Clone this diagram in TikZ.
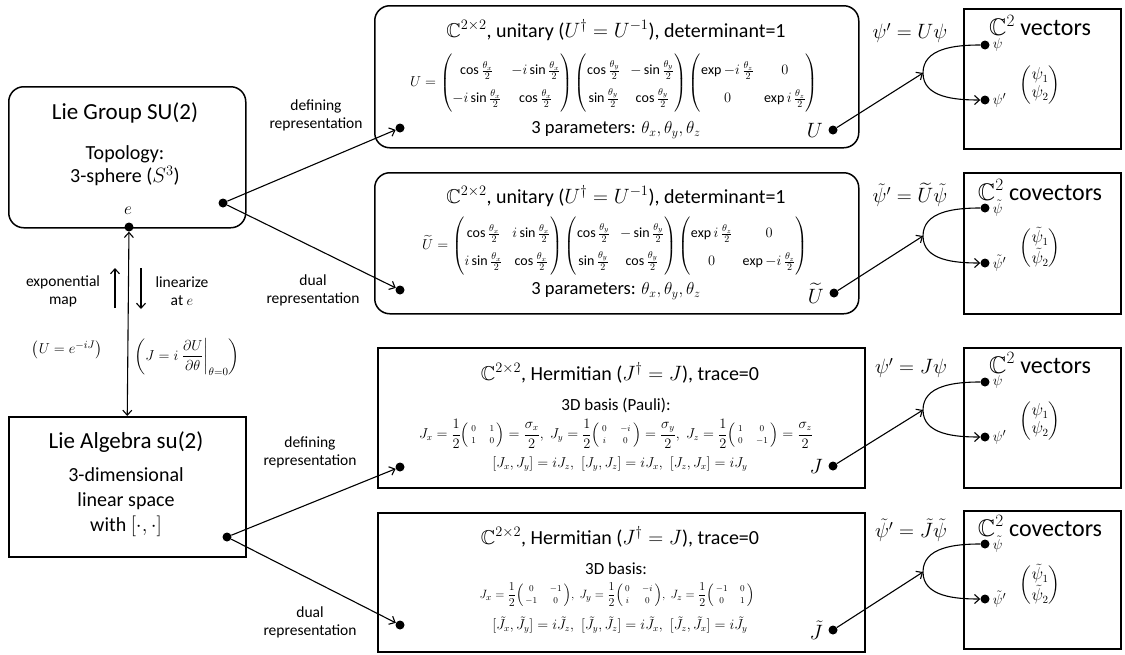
\documentclass[tikz,border=0pt]{standalone}
\usepackage{amsmath,amssymb,array}
\usepackage{fontspec}
\setmainfont{Carlito}
\usetikzlibrary{positioning,arrows.meta}

\tikzset{
  grp/.style={draw, line width=1.5pt, rounded corners=15pt, anchor=north west, inner sep=0pt},
  box/.style={draw, line width=1.5pt, anchor=north west, inner sep=0pt},
  dot/.style={circle, fill, inner sep=0pt, minimum size=9pt},
  link/.style={line width=1.1pt},
  head/.style={font=\fontsize{23}{27}\selectfont},
  body/.style={font=\fontsize{20}{24}\selectfont, align=center},
  note/.style={font=\fontsize{15.5}{18}\selectfont, align=center},
  mth/.style={font=\fontsize{15}{17}\selectfont, inner sep=1pt},
  mat/.style={font=\fontsize{14}{16}\selectfont},
  eqn/.style={font=\fontsize{13.5}{16}\selectfont},
  comm/.style={font=\fontsize{13.5}{16}\selectfont},
  vec/.style={font=\fontsize{24}{28}\selectfont, inner sep=1pt},
  lbl/.style={font=\fontsize{20}{24}\selectfont},
}
\newcommand{\tallrows}{\renewcommand{\arraystretch}{1.75}}
\newcommand{\half}{\dfrac{1}{2}}
\newcommand{\smat}[1]{{\renewcommand{\arraystretch}{0.8}\left(\begin{array}{@{\,}>{\scriptstyle}c@{\quad}>{\scriptstyle}c@{\,}}#1\end{array}\right)}}

\begin{document}
\begin{tikzpicture}[x=1pt, y=1pt, >={Straight Barb[length=5pt,width=9pt]}]

  \useasboundingbox (0,0) rectangle (1125,-654);

  % Lie group
  \node[grp, minimum width=237, minimum height=141] (group) at (8,-86) {};
  \node[head] (grptitle) at (125,-113) {Lie Group SU(2)};
  \node[body, font=\fontsize{20}{23}\selectfont] (topo) at (125,-166) {Topology:\\3-sphere ($S^3$)};
  \node[mth, font=\fontsize{17}{20}\selectfont] (elabel) at (128,-211) {$e$};
  \node[dot] (edot) at (129,-227) {};
  \node[dot] (gdot) at (223,-203) {};

  % Lie algebra
  \node[box, minimum width=237, minimum height=140] (alg) at (8,-416) {};
  \node[head] (algtitle) at (126,-442) {Lie Algebra su(2)};
  \node[body, font=\fontsize{20}{25}\selectfont] (linsp) at (126,-502) {3-dimensional\\linear space\\with $[\cdot,\cdot]$};
  \node[dot] (adot) at (227,-537) {};

  % exp / linearize between them
  \draw[link, <->] (edot) -- (alg.north);
  \draw[link, ->] (115,-308) -- (115,-268);
  \draw[link, ->] (141,-268) -- (141,-309);
  \node[note] (expmap) at (63,-291) {exponential\\map};
  \node[note] (linat) at (182,-291) {linearize\\at $e$};
  \node[mth] (expeq) at (67,-350) {$\left(U=e^{-iJ}\right)$};
  \node[mth] (lineq) at (187,-357) {$\left(J=i\left.\dfrac{\partial U}{\partial\theta}\right|_{\theta=0}\right)$};

  % representation labels
  \node[note] (defA) at (316,-115) {defining\\representation};
  \node[note] (dualA) at (313,-290) {dual\\representation};
  \node[note] (defB) at (310,-452) {defining\\representation};
  \node[note] (dualB) at (310,-622) {dual\\representation};

  % defining rep of SU(2)
  \node[grp, minimum width=484, minimum height=142] (unitA) at (374,-5) {};
  \node[body] at (616,-30) {$\mathbb{C}^{2\times 2}$, unitary ($U^\dagger=U^{-1}$), determinant=1};
  \node[mat] at (614,-83) {\tallrows$U=\begin{pmatrix}\cos\frac{\theta_x}{2} & -i\sin\frac{\theta_x}{2}\\ -i\sin\frac{\theta_x}{2} & \cos\frac{\theta_x}{2}\end{pmatrix}
    \begin{pmatrix}\cos\frac{\theta_y}{2} & -\sin\frac{\theta_y}{2}\\ \sin\frac{\theta_y}{2} & \cos\frac{\theta_y}{2}\end{pmatrix}
    \begin{pmatrix}\exp -i\,\frac{\theta_z}{2} & 0\\ 0 & \exp i\,\frac{\theta_z}{2}\end{pmatrix}$};
  \node[body, font=\fontsize{18.5}{22}\selectfont] at (616,-130) {3 parameters: $\theta_x,\theta_y,\theta_z$};
  \node[dot] (inA) at (400,-128) {};
  \node[dot] (outA) at (833,-130) {};
  \node[lbl, left=2pt of outA] {$U$};

  % dual rep of SU(2)
  \node[grp, minimum width=484, minimum height=141] (unitB) at (374,-172) {};
  \node[body] at (616,-196) {$\mathbb{C}^{2\times 2}$, unitary ($U^\dagger=U^{-1}$), determinant=1};
  \node[mat] at (615,-246) {\tallrows$\widetilde{U}=\begin{pmatrix}\cos\frac{\theta_x}{2} & i\sin\frac{\theta_x}{2}\\ i\sin\frac{\theta_x}{2} & \cos\frac{\theta_x}{2}\end{pmatrix}
    \begin{pmatrix}\cos\frac{\theta_y}{2} & -\sin\frac{\theta_y}{2}\\ \sin\frac{\theta_y}{2} & \cos\frac{\theta_y}{2}\end{pmatrix}
    \begin{pmatrix}\exp i\,\frac{\theta_z}{2} & 0\\ 0 & \exp -i\,\frac{\theta_z}{2}\end{pmatrix}$};
  \node[body, font=\fontsize{18.5}{22}\selectfont] at (616,-291) {3 parameters: $\theta_x,\theta_y,\theta_z$};
  \node[dot] (inB) at (400,-290) {};
  \node[dot] (outB) at (834,-293) {};
  \node[lbl, left=2pt of outB] {$\widetilde{U}$};

  % defining rep of su(2)
  \node[box, minimum width=487, minimum height=140] (hermA) at (377,-347) {};
  \node[body] at (620,-373) {$\mathbb{C}^{2\times 2}$, Hermitian ($J^\dagger=J$), trace=0};
  \node[body, font=\fontsize{17}{20}\selectfont] at (616,-405) {3D basis (Pauli):};
  \node[eqn] at (616,-434) {$J_x=\half\smat{0&1\\1&0}=\dfrac{\sigma_x}{2},\;
    J_y=\half\smat{0&-i\\i&0}=\dfrac{\sigma_y}{2},\;
    J_z=\half\smat{1&0\\0&-1}=\dfrac{\sigma_z}{2}$};
  \node[comm] at (620,-464) {$[J_x,J_y]=iJ_z,\,\,[J_y,J_z]=iJ_x,\,\,[J_z,J_x]=iJ_y$};
  \node[dot] (inC) at (400,-467) {};
  \node[dot] (outC) at (833,-466) {};
  \node[lbl, left=2pt of outC] {$J$};

  % dual rep of su(2)
  \node[box, minimum width=487, minimum height=139] (hermB) at (377,-512) {};
  \node[body] at (620,-537) {$\mathbb{C}^{2\times 2}$, Hermitian ($J^\dagger=J$), trace=0};
  \node[body, font=\fontsize{17}{20}\selectfont] at (616,-569) {3D basis:};
  \node[eqn, font=\fontsize{12.5}{15}\selectfont] at (617,-595) {$J_x=\half\smat{0&-1\\-1&0},\;
    J_y=\half\smat{0&-i\\i&0},\;
    J_z=\half\smat{-1&0\\0&1}$};
  \node[comm] at (620,-625) {$[\tilde J_x,\tilde J_y]=i\tilde J_z,\,\,[\tilde J_y,\tilde J_z]=i\tilde J_x,\,\,[\tilde J_z,\tilde J_x]=i\tilde J_y$};
  \node[dot] (inD) at (400,-625) {};
  \node[dot] (outD) at (833,-630) {};
  \node[lbl, left=2pt of outD] {$\tilde J$};

  % group / algebra to representations
  \draw[link, ->] (gdot) -- (inA);
  \draw[link, ->] (gdot) -- (inB);
  \draw[link, ->] (adot) -- (inC);
  \draw[link, ->] (adot) -- (inD);

  % C^2 vectors (U)
  \node[box, minimum width=157, minimum height=140] (vecA) at (963,-8) {};
  \node[vec] at (1040,-26) {$\mathbb{C}^2$ vectors};
  \node[mat, font=\fontsize{16}{18}\selectfont] at (1040,-85) {$\begin{pmatrix}\psi_1\\\psi_2\end{pmatrix}$};
  \node[dot] (psiA) at (985,-45) {};
  \node[dot] (psipA) at (985,-100) {};
  \node[mth, right=2pt of psiA] {$\psi$};
  \node[mth, right=2pt of psipA] {$\psi'$};
  \node[lbl] at (910,-33) {$\psi'=U\psi$};
  \coordinate (forkA) at (923,-73);
  \draw[link, ->] (psiA) to[out=180, in=90] (forkA) to[out=-90, in=180] (psipA);
  \draw[link, ->] (outA) -- (forkA);

  % C^2 covectors (U tilde)
  \node[box, minimum width=157, minimum height=141] (vecB) at (963,-172) {};
  \node[vec] at (1040,-190) {$\mathbb{C}^2$ covectors};
  \node[mat, font=\fontsize{16}{18}\selectfont] at (1040,-248) {$\begin{pmatrix}\tilde\psi_1\\\tilde\psi_2\end{pmatrix}$};
  \node[dot] (psiB) at (985,-208) {};
  \node[dot] (psipB) at (985,-263) {};
  \node[mth, right=2pt of psiB] {$\tilde\psi$};
  \node[mth, right=2pt of psipB] {$\tilde\psi'$};
  \node[lbl] at (910,-195) {$\tilde\psi'=\widetilde{U}\tilde\psi$};
  \coordinate (forkB) at (923,-236);
  \draw[link, ->] (psiB) to[out=180, in=90] (forkB) to[out=-90, in=180] (psipB);
  \draw[link, ->] (outB) -- (forkB);

  % C^2 vectors (J)
  \node[box, minimum width=157, minimum height=140] (vecC) at (963,-347) {};
  \node[vec] at (1040,-363) {$\mathbb{C}^2$ vectors};
  \node[mat, font=\fontsize{16}{18}\selectfont] at (1040,-421) {$\begin{pmatrix}\psi_1\\\psi_2\end{pmatrix}$};
  \node[dot] (psiC) at (985,-382) {};
  \node[dot] (psipC) at (985,-437) {};
  \node[mth, right=2pt of psiC] {$\psi$};
  \node[mth, right=2pt of psipC] {$\psi'$};
  \node[lbl] at (911,-368) {$\psi'=J\psi$};
  \coordinate (forkC) at (923,-410);
  \draw[link, ->] (psiC) to[out=180, in=90] (forkC) to[out=-90, in=180] (psipC);
  \draw[link, ->] (outC) -- (forkC);

  % C^2 covectors (J tilde)
  \node[box, minimum width=157, minimum height=138] (vecD) at (963,-510) {};
  \node[vec] at (1040,-526) {$\mathbb{C}^2$ covectors};
  \node[mat, font=\fontsize{16}{18}\selectfont] at (1040,-585) {$\begin{pmatrix}\tilde\psi_1\\\tilde\psi_2\end{pmatrix}$};
  \node[dot] (psiD) at (985,-544) {};
  \node[dot] (psipD) at (985,-599) {};
  \node[mth, right=2pt of psiD] {$\tilde\psi$};
  \node[mth, right=2pt of psipD] {$\tilde\psi'$};
  \node[lbl] at (911,-530) {$\tilde\psi'=\tilde J\tilde\psi$};
  \coordinate (forkD) at (923,-572);
  \draw[link, ->] (psiD) to[out=180, in=90] (forkD) to[out=-90, in=180] (psipD);
  \draw[link, ->] (outD) -- (forkD);

\end{tikzpicture}
\end{document}
